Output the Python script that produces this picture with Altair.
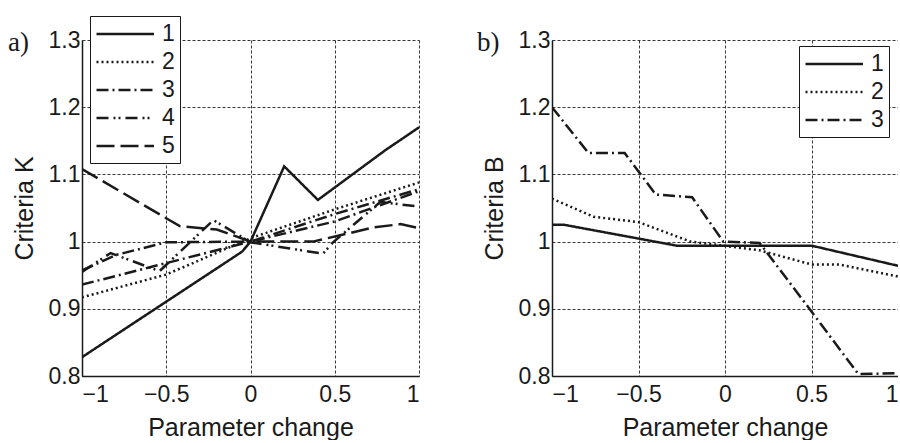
import altair as alt
import pandas as pd

# ---------------- panel a) data ----------------
a1_x = [-1, -0.05, 0, 0.2, 0.4, 0.8, 1]
a1_y = [0.828, 0.985, 1.0, 1.112, 1.062, 1.136, 1.17]
a2_x = [-1, -0.5, 0, 0.5, 1]
a2_y = [0.917, 0.951, 1.005, 1.048, 1.088]
a3_x = [-1, -0.5, 0, 0.5, 1]
a3_y = [0.936, 0.968, 1.0, 1.041, 1.078]
a3b_x = [-1, -0.8, -0.5, 0, 0.5, 1]
a3b_y = [0.957, 0.98, 0.999, 1.0, 1.03, 1.075]
a4_x = [-1, -0.83, -0.54, -0.22, 0, 0.43, 0.49, 0.77, 1]
a4_y = [0.955, 0.983, 0.956, 1.032, 0.999, 0.982, 0.999, 1.059, 1.052]
a5_x = [-1, -0.42, -0.2, 0, 0.37, 0.73, 0.89, 1]
a5_y = [1.108, 1.023, 1.018, 1.0, 1.0, 1.021, 1.026, 1.02]

# ---------------- panel b) data ----------------
b1_x = [-1, -0.93, -0.28, 0.5, 1]
b1_y = [1.025, 1.025, 0.994, 0.994, 0.964]
b2_x = [-1, -0.76, -0.5, -0.2, 0.2, 0.5, 0.66, 1]
b2_y = [1.064, 1.037, 1.029, 1.0, 0.987, 0.966, 0.966, 0.948]
b3_x = [-1, -0.79, -0.58, -0.4, -0.19, -0.01, 0.2, 0.5, 0.77, 1]
b3_y = [1.2, 1.132, 1.132, 1.07, 1.066, 1.0, 0.998, 0.896, 0.803, 0.804]

x_ticks = [-1, -0.5, 0, 0.5, 1]
y_ticks = [0.8, 0.9, 1.0, 1.1, 1.2, 1.3]
styles_a = ["1", "2", "3", "4", "5"]
styles_b = ["1", "2", "3"]

FONT = "Liberation Sans, Arial, sans-serif"
SERIF = "Liberation Serif, Times New Roman, serif"
INK = "#1a1a1a"

dash_map = {
    "1": [1, 0],
    "2": [2, 3],
    "3": [12, 4, 2, 4],
    "4": [12, 5, 2, 3, 2, 5],
    "5": [18, 6],
}


def frame(series):
    rows = []
    for name, style, xs, ys in series:
        for xv, yv in zip(xs, ys):
            rows.append({"x": xv, "y": yv, "style": style, "series": name})
    return pd.DataFrame(rows)


df_a = frame([
    ("a1", "1", a1_x, a1_y),
    ("a2", "2", a2_x, a2_y),
    ("a3", "3", a3_x, a3_y),
    ("a3b", "3", a3b_x, a3b_y),
    ("a4", "4", a4_x, a4_y),
    ("a5", "5", a5_x, a5_y),
])
df_b = frame([
    ("b1", "1", b1_x, b1_y),
    ("b2", "2", b2_x, b2_y),
    ("b3", "3", b3_x, b3_y),
])


def panel(df, ytitle, styles, lx, ly, tag, tag_x, width):
    lines = alt.Chart(df).mark_line(
        strokeWidth=2.5, color=INK, clip=True, strokeCap="butt", strokeJoin="miter"
    ).encode(
        x=alt.X("x:Q", scale=alt.Scale(domain=[-1, 1], nice=False, zero=False),
                axis=alt.Axis(values=x_ticks, format="~g", title="Parameter change")),
        y=alt.Y("y:Q", scale=alt.Scale(domain=[0.8, 1.3], nice=False, zero=False),
                axis=alt.Axis(values=y_ticks, format="~g", title=ytitle)),
        strokeDash=alt.StrokeDash(
            "style:N",
            scale=alt.Scale(domain=styles, range=[dash_map[s] for s in styles]),
            legend=alt.Legend(title=None, orient="none", legendX=lx, legendY=ly),
        ),
        detail="series:N",
    )
    label = alt.Chart(pd.DataFrame({"t": [tag]})).mark_text(
        font=SERIF, fontSize=27, align="left", baseline="middle", color=INK
    ).encode(x=alt.value(tag_x), y=alt.value(3), text="t:N")
    return alt.layer(lines, label).properties(width=width, height=336)


left = panel(df_a, "Criteria K", styles_a, 8, -24, "a)", -74, 337)
right = panel(df_b, "Criteria B", styles_b, 247, 6, "b)", -75, 346)

chart = alt.hconcat(left, right, spacing=58).resolve_scale(
    strokeDash="independent"
).resolve_legend(strokeDash="independent").properties(
    padding={"left": 8, "top": 15, "right": 0, "bottom": 0}
).configure_view(stroke=None).configure_axis(
    labelFont=FONT, labelFontSize=23, labelColor=INK,
    titleFont=FONT, titleFontSize=25, titleFontWeight="normal", titleColor=INK,
    grid=True, gridColor="#222222", gridDash=[3, 2], gridWidth=1, gridOpacity=0.9,
    domainColor=INK, domainWidth=1.5, ticks=False,
).configure_axisX(titlePadding=9, labelPadding=7).configure_axisY(
    titlePadding=11, labelPadding=2
).configure_legend(
    symbolType="M-1,0H4", symbolSize=529, symbolStrokeWidth=2.5, symbolStrokeColor=INK,
    symbolFillColor="transparent",
    strokeColor=INK, fillColor="white", padding=5, labelFont=FONT, labelFontSize=23,
    labelColor=INK, rowPadding=3, labelOffset=41,
)

chart.save("out.html", embed_options={"renderer": "svg", "actions": False})
